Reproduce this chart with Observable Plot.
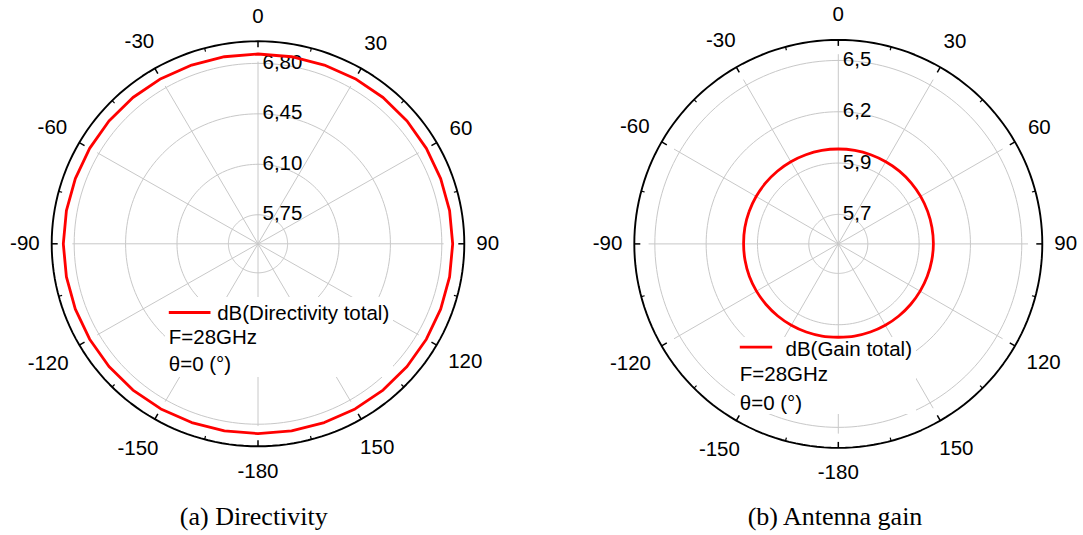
<!DOCTYPE html>
<html>
<head>
<meta charset="utf-8">
<script src="https://cdn.jsdelivr.net/npm/d3@7"></script>
<script src="https://cdn.jsdelivr.net/npm/@observablehq/plot@0.6"></script>
<style>
  body { margin: 0; background: #fff; }
  #page { position: relative; width: 1083px; height: 535px; overflow: hidden; background: #fff; }
  .panel { position: absolute; top: 0; }
  .caption {
    position: absolute; top: 502px;
    font-family: "Liberation Serif", "Times New Roman", serif;
    font-size: 26px; line-height: 30px; white-space: nowrap;
    transform: translateX(-50%); color: #000;
  }
</style>
</head>
<body>
<div id="page"></div>
<script>
// Azimuth phi in degrees, clockwise from 0 at the top
const angles = [-180, -170, -160, -150, -140, -130, -120, -110, -100,
                -90, -80, -70, -60, -50, -40, -30, -20, -10,
                0, 10, 20, 30, 40, 50, 60, 70, 80,
                90, 100, 110, 120, 130, 140, 150, 160, 170,
                180];

// dB(Directivity total), F = 28 GHz, theta = 0
const directivityDb = [6.865, 6.866, 6.868, 6.871, 6.873, 6.873, 6.872, 6.872, 6.873,
                       6.874, 6.873, 6.872, 6.872, 6.873, 6.873, 6.871, 6.868, 6.866,
                       6.865, 6.866, 6.868, 6.871, 6.873, 6.873, 6.872, 6.872, 6.873,
                       6.874, 6.873, 6.872, 6.872, 6.873, 6.873, 6.871, 6.868, 6.866,
                       6.865];

// dB(Gain total), F = 28 GHz, theta = 0
const gainDb = [5.996, 5.997, 5.998, 5.999, 6.000, 6.001, 6.002, 6.003, 6.003,
                6.003, 6.004, 6.004, 6.004, 6.004, 6.004, 6.004, 6.004, 6.004,
                6.004, 6.004, 6.004, 6.004, 6.005, 6.005, 6.005, 6.005, 6.005,
                6.005, 6.004, 6.003, 6.002, 6.001, 6.000, 5.999, 5.998, 5.997,
                5.996];

// Radial grid rings (dB)
const directivityRings = [5.75, 6.10, 6.45, 6.80];
const gainRings = [5.66, 5.93, 6.20, 6.47];

// Angular axis labels
const angleTicks = [0, 30, 60, 90, 120, 150, -180, -150, -120, -90, -60, -30];
const angleTickLabels = ["0", "30", "60", "90", "120", "150", "-180", "-150", "-120", "-90", "-60", "-30"];

const directivityLegend = ["dB(Directivity total)", "F=28GHz", "θ=0 (°)"];
const gainLegend = ["dB(Gain total)", "F=28GHz", "θ=0 (°)"];
const captions = ["(a) Directivity", "(b) Antenna gain"];

const FONT = "'Liberation Sans', Arial, sans-serif";
const FS = 20.5;
const rad = (d) => d * Math.PI / 180;

function polarPanel(cfg) {
  const {width, height, cx, cy, rx, ry, rMin, rMax, rings, ringFormat, spokeExtent, values, curve, legendText, legend} = cfg;

  // radial value -> fraction of the outer circle
  const u = (v) => (v - rMin) / (rMax - rMin);
  // pixel position inside this panel -> scale units
  const ux = (X) => (X - cx) / rx;
  const uy = (Y) => (cy - Y) / ry;

  const circle = (k, r) => d3.range(0, 361, 2).map((a) => ({k, x: r * Math.sin(rad(a)), y: r * Math.cos(rad(a))}));
  const ringPts = rings.flatMap((v) => circle(v, u(v)));
  const outerPts = circle("outer", 1);

  const spokeAngles = d3.range(-150, 181, 30);
  const majorTicks = d3.range(-150, 181, 30);
  const minorTicks = d3.range(-165, 181, 30);

  const series = angles.map((a, i) => ({a, v: values[i]}));

  const labels = angleTicks.map((a, i) => {
    const text = angleTickLabels[i];
    const s = Math.sin(rad(a)), c = Math.cos(rad(a));
    const halfW = (text.replace("-", "").length * 11.4 + (text.startsWith("-") ? 6.8 : 0)) / 2;
    const e = 16 + halfW * Math.abs(s) + 9 * Math.abs(c) - 4 * s ** 4;
    return {text, x: s * (1 + e / rx), y: c * (1 + e / ry)};
  });

  const legendRows = [
    {text: legendText[0], X: legend.textX, Y: legend.rows[0]},
    {text: legendText[1], X: legend.lineX1, Y: legend.rows[1]},
    {text: legendText[2], X: legend.lineX1, Y: legend.rows[2]}
  ];

  return Plot.plot({
    width, height,
    margin: 0,
    style: {fontFamily: FONT, fontSize: FS + "px", background: "#fff", color: "#000"},
    x: {type: "linear", domain: [-1, 1], range: [cx - rx, cx + rx], axis: null},
    y: {type: "linear", domain: [-1, 1], range: [cy + ry, cy - ry], axis: null},
    marks: [
      // grid rings and spokes
      Plot.line(ringPts, {x: "x", y: "y", z: "k", stroke: "#c8c8c8", strokeWidth: 1}),
      Plot.link(spokeAngles, {
        x1: () => 0, y1: () => 0,
        x2: (a) => spokeExtent * Math.sin(rad(a)), y2: (a) => spokeExtent * Math.cos(rad(a)),
        stroke: "#c8c8c8", strokeWidth: 1
      }),
      // legend backdrop
      Plot.rect([legend.box], {
        x1: (b) => ux(b.x1), x2: (b) => ux(b.x2), y1: (b) => uy(b.y1), y2: (b) => uy(b.y2),
        fill: "#fff"
      }),
      // outer circle with angular ticks
      Plot.line(outerPts, {x: "x", y: "y", stroke: "#000", strokeWidth: 1.9}),
      Plot.link(majorTicks, {
        x1: (a) => Math.sin(rad(a)), y1: (a) => Math.cos(rad(a)),
        x2: (a) => (1 - 6 / rx) * Math.sin(rad(a)), y2: (a) => (1 - 6 / ry) * Math.cos(rad(a)),
        stroke: "#000", strokeWidth: 1.5
      }),
      Plot.link(minorTicks, {
        x1: (a) => Math.sin(rad(a)), y1: (a) => Math.cos(rad(a)),
        x2: (a) => (1 - 3.5 / rx) * Math.sin(rad(a)), y2: (a) => (1 - 3.5 / ry) * Math.cos(rad(a)),
        stroke: "#000", strokeWidth: 1.2
      }),
      // radial tick labels
      Plot.text(rings, {
        x: () => 0, y: (v) => u(v), text: ringFormat,
        textAnchor: "start", lineAnchor: "bottom", dx: 4.5, dy: 5.5, fontSize: FS, fill: "#000"
      }),
      // pattern
      Plot.line(series, {
        x: (d) => u(d.v) * Math.sin(rad(d.a)),
        y: (d) => u(d.v) * Math.cos(rad(d.a)),
        curve,
        stroke: "#ff0000", strokeWidth: 2.8, strokeLinejoin: "miter"
      }),
      // legend
      Plot.link([legend], {
        x1: (l) => ux(l.lineX1), x2: (l) => ux(l.lineX2),
        y1: (l) => uy(l.lineY), y2: (l) => uy(l.lineY),
        stroke: "#ff0000", strokeWidth: 2.8
      }),
      Plot.text(legendRows, {
        x: (d) => ux(d.X), y: (d) => uy(d.Y), text: "text",
        textAnchor: "start", lineAnchor: "bottom", fontSize: FS, fill: "#000"
      }),
      // angular labels
      Plot.text(labels, {x: "x", y: "y", text: "text", textAnchor: "middle", lineAnchor: "middle", fontSize: FS, fill: "#000"})
    ]
  });
}

const page = document.getElementById("page");

const left = polarPanel({
  width: 541, height: 502,
  cx: 257.5, cy: 243.3, rx: 206.3, ry: 202.5,
  rMin: 5.5486, rMax: 6.953,
  rings: directivityRings,
  ringFormat: (v) => v.toFixed(2).replace(".", ","),
  spokeExtent: 0.90,
  values: directivityDb,
  curve: "linear",
  legendText: directivityLegend,
  legend: {
    box: {x1: 165, x2: 393, y1: 297, y2: 377},
    lineX1: 168.3, lineX2: 210, lineY: 312, textX: 216.7,
    rows: [319.3, 343.3, 370.7]
  }
});
left.classList.add("panel");
left.style.left = "0px";
page.appendChild(left);

const right = polarPanel({
  width: 542, height: 502,
  cx: 296.8, cy: 243.4, rx: 204, ry: 204,
  rMin: 5.5048, rMax: 6.578,
  rings: gainRings,
  ringFormat: (v) => v.toFixed(1).replace(".", ","),
  spokeExtent: 0.93,
  values: gainDb,
  curve: "catmull-rom",
  legendText: gainLegend,
  legend: {
    box: {x1: 194, x2: 375, y1: 337, y2: 414},
    lineX1: 198.3, lineX2: 230.7, lineY: 346.7, textX: 244,
    rows: [355, 380.7, 409.3]
  }
});
right.classList.add("panel");
right.style.left = "541px";
page.appendChild(right);

[[captions[0], 253.8], [captions[1], 835]].forEach(([text, x]) => {
  const div = document.createElement("div");
  div.className = "caption";
  div.style.left = x + "px";
  div.textContent = text;
  page.appendChild(div);
});
</script>
</body>
</html>
